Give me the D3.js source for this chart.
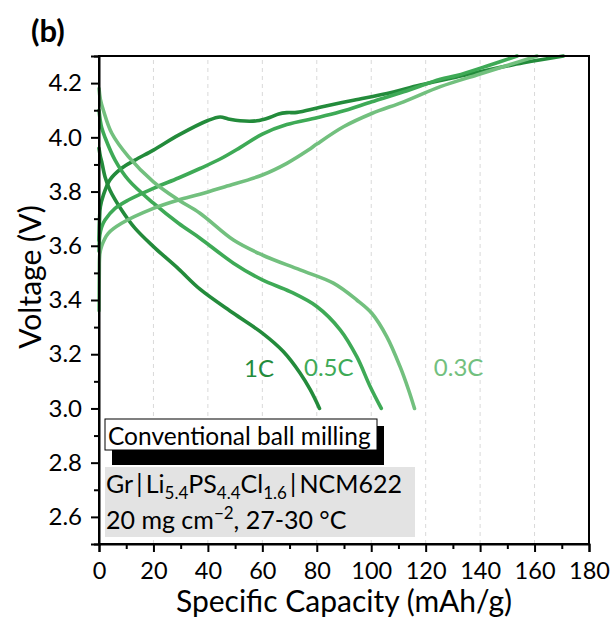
<!DOCTYPE html>
<html>
<head>
<meta charset="utf-8">
<script src="https://cdn.jsdelivr.net/npm/d3@7"></script>
<style>
  body { margin: 0; background: #fff; }
  svg { display: block; font-family: Lato, "Open Sans", sans-serif; }
</style>
</head>
<body>
<div id="chart"></div>
<script>
// series: [capacity mAh/g, voltage V]
const rates = ["1C", "0.5C", "0.3C"];
const colors = ["#238b3b", "#3eaa56", "#72c07e"];

const charge1C = [[0,3.62],[0.2,3.70],[0.5,3.744],[1.6,3.787],[4,3.843],[8.3,3.886],[13.2,3.916],[20,3.953],[29.2,4.008],[40,4.062],[44.5,4.075],[47.5,4.068],[51.8,4.061],[58,4.061],[62.9,4.074],[66,4.086],[69,4.091],[72.7,4.092],[81.2,4.111],[93.5,4.137],[105.8,4.162],[118,4.193],[131.4,4.223],[155.9,4.275],[170.6,4.3]];
const discharge1C = [[0,3.96],[0.5,3.93],[1,3.91],[2.2,3.855],[4,3.806],[8.3,3.732],[13.2,3.665],[20,3.597],[29.2,3.515],[37.1,3.44],[49.4,3.351],[60,3.278],[67.7,3.21],[73.9,3.13],[77.6,3.069],[81,3.0]];

const charge05C = [[0,3.58],[0.3,3.64],[1,3.67],[2.2,3.695],[5.9,3.738],[10.8,3.769],[20,3.812],[29.2,3.85],[37.1,3.885],[44.5,3.92],[51.8,3.962],[60,4.012],[69,4.047],[80,4.072],[88.6,4.094],[100.2,4.131],[111.9,4.168],[125.4,4.214],[131.4,4.228],[143.7,4.267],[153.6,4.3]];
const discharge05C = [[0,4.1],[0.5,4.06],[1,4.035],[2.2,4.0],[5.9,3.916],[10.8,3.843],[20,3.757],[29.2,3.683],[37.1,3.628],[49.4,3.536],[60,3.474],[70.2,3.431],[80,3.376],[88.6,3.29],[94.7,3.191],[99.6,3.081],[103.7,3.0]];

const charge03C = [[0,3.36],[0.1,3.5],[0.3,3.57],[1,3.6],[3.4,3.646],[8.3,3.683],[20,3.738],[29.2,3.769],[37.1,3.79],[46.3,3.818],[60,3.861],[69,3.904],[76.9,3.953],[80,3.975],[89.8,4.039],[100.2,4.088],[111.9,4.131],[125.4,4.187],[138.8,4.23],[149.9,4.265],[160.9,4.3]];
const discharge03C = [[0,4.18],[0.5,4.14],[1.6,4.1],[4.7,4.015],[10.8,3.929],[20,3.836],[29.2,3.769],[37.1,3.72],[49.4,3.621],[60,3.566],[73.9,3.511],[86.1,3.462],[94.7,3.4],[100.2,3.351],[105.7,3.265],[110.6,3.154],[113.7,3.069],[115.9,3.0]];

const series = [
  {rate: "1C", curves: [charge1C, discharge1C]},
  {rate: "0.5C", curves: [charge05C, discharge05C]},
  {rate: "0.3C", curves: [charge03C, discharge03C]}
];

const xTicks = d3.range(0, 181, 20);
const xMinor = d3.range(10, 180, 20);
const yTicks = [2.6, 2.8, 3.0, 3.2, 3.4, 3.6, 3.8, 4.0, 4.2];
const yMinor = [2.5, 2.7, 2.9, 3.1, 3.3, 3.5, 3.7, 3.9, 4.1, 4.3];

// rate labels placed next to discharge ends
const rateLabelPos = [[53.3, 3.115], [75.3, 3.12], [123, 3.12]];

const width = 614, height = 623;
const margin = {left: 99, right: 25, top: 56, bottom: 79};

const x = d3.scaleLinear().domain([0, 180]).range([margin.left, width - margin.right]);
const y = d3.scaleLinear().domain([2.5, 4.3]).range([height - margin.bottom, margin.top]);

const svg = d3.select("#chart").append("svg")
  .attr("width", width).attr("height", height);

// vertical dashed grid
svg.append("g").selectAll("line")
  .data(xTicks.filter(d => d > 0 && d < 180))
  .enter().append("line")
  .attr("x1", d => x(d)).attr("x2", d => x(d))
  .attr("y1", y(2.5)).attr("y2", y(4.3))
  .attr("stroke", "#d9d9d9").attr("stroke-width", 1)
  .attr("stroke-dasharray", "4,4");

// curves
const line = d3.line()
  .x(d => x(d[0])).y(d => y(d[1]))
  .curve(d3.curveCatmullRom.alpha(0.5));

series.forEach((s, i) => {
  s.curves.forEach(c => {
    svg.append("path")
      .datum(c)
      .attr("d", line)
      .attr("fill", "none")
      .attr("stroke", colors[i])
      .attr("stroke-width", 3.6)
      .attr("stroke-linecap", "round");
  });
});

// rate labels
svg.append("g").selectAll("text")
  .data(rates)
  .enter().append("text")
  .attr("x", (d, i) => x(rateLabelPos[i][0]))
  .attr("y", (d, i) => y(rateLabelPos[i][1]))
  .attr("fill", (d, i) => colors[i])
  .attr("font-size", 24)
  .text(d => d);

// frame
svg.append("rect")
  .attr("x", x(0)).attr("y", y(4.3))
  .attr("width", x(180) - x(0)).attr("height", y(2.5) - y(4.3))
  .attr("fill", "none").attr("stroke", "#000").attr("stroke-width", 2);

// axes
const xAxis = svg.append("g").attr("transform", `translate(0,${y(2.5)})`)
  .call(d3.axisBottom(x).tickValues(xTicks).tickSize(8).tickFormat(d3.format("d")));
svg.append("g").attr("transform", `translate(0,${y(2.5)})`)
  .call(d3.axisBottom(x).tickValues(xMinor).tickSize(5).tickFormat(""))
  .select(".domain").remove();

const yAxis = svg.append("g").attr("transform", `translate(${x(0)},0)`)
  .call(d3.axisLeft(y).tickValues(yTicks).tickSize(8).tickPadding(9).tickFormat(d3.format(".1f")));
svg.append("g").attr("transform", `translate(${x(0)},0)`)
  .call(d3.axisLeft(y).tickValues(yMinor).tickSize(5).tickFormat(""))
  .select(".domain").remove();

svg.selectAll(".tick line").attr("stroke", "#000").attr("stroke-width", 2);
svg.selectAll(".domain").attr("stroke", "#000").attr("stroke-width", 2);
xAxis.selectAll("text").attr("font-size", 23.5).attr("fill", "#000").attr("font-family", "Lato")
  .attr("y", 35).attr("dy", 0);
yAxis.selectAll("text").attr("font-size", 24).attr("fill", "#000").attr("font-family", "Lato");

// axis titles
svg.append("text")
  .attr("x", (x(0) + x(180)) / 2).attr("y", 612)
  .attr("text-anchor", "middle").attr("font-size", 30)
  .text("Specific Capacity (mAh/g)");

svg.append("text")
  .attr("transform", "translate(41,277) rotate(-90)")
  .attr("text-anchor", "middle").attr("font-size", 30)
  .text("Voltage (V)");

svg.append("text")
  .attr("x", 31).attr("y", 42)
  .attr("font-size", 31).attr("font-weight", "bold")
  .text("(b)");

// method box with shadow
svg.append("rect")
  .attr("x", 112).attr("y", 426).attr("width", 272).attr("height", 39)
  .attr("fill", "#000");
svg.append("rect")
  .attr("x", 105).attr("y", 419).attr("width", 272).attr("height", 31)
  .attr("fill", "#fff").attr("stroke", "#000").attr("stroke-width", 1);
svg.append("text")
  .attr("x", 108).attr("y", 445)
  .attr("font-size", 24.5)
  .text("Conventional ball milling");

// cell info box
svg.append("rect")
  .attr("x", 105).attr("y", 467).attr("width", 310).attr("height", 70)
  .attr("fill", "#e3e3e3");

const cell = svg.append("text").attr("x", 106).attr("y", 493).attr("font-size", 25);
const parts = [["Gr\u2009|\u2009Li", null], ["5.4", "sub"], ["PS", null], ["4.4", "sub"], ["Cl", null], ["1.6", "sub"], ["\u2009|\u2009NCM622", null]];
parts.forEach((p, k) => {
  const t = cell.append("tspan").text(p[0]);
  if (p[1]) t.attr("font-size", 17).attr("dy", 6);
  else if (k > 0) t.attr("dy", -6);
});

const cond = svg.append("text").attr("x", 106).attr("y", 529).attr("font-size", 25);
cond.append("tspan").text("20 mg cm");
cond.append("tspan").attr("font-size", 17).attr("dy", -10).text("\u22122");
cond.append("tspan").attr("dy", 10).text(", 27-30 \u00B0C");
</script>
</body>
</html>
